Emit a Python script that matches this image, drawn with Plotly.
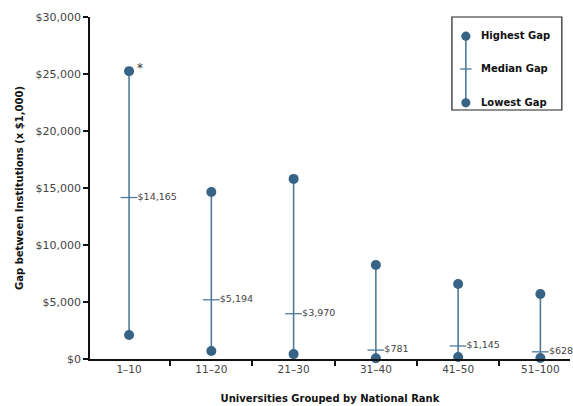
import plotly.graph_objects as go

categories = ["1–10", "11–20", "21–30", "31–40", "41–50", "51–100"]
highest_gap = [25250, 14650, 15800, 8250, 6580, 5700]
median_gap = [14165, 5194, 3970, 781, 1145, 628]
lowest_gap = [2100, 700, 430, 60, 180, 90]
median_labels = ["$14,165", "$5,194", "$3,970", "$781", "$1,145", "$628"]
y_ticks = [0, 5000, 10000, 15000, 20000, 25000, 30000]
y_tick_text = ["$0", "$5,000", "$10,000", "$15,000", "$20,000", "$25,000", "$30,000"]

DOT = "#366386"
LINE = "#4f7b9b"
FONT = "DejaVu Sans"

fig = go.Figure()

# vertical range lines
for c, hi, lo in zip(categories, highest_gap, lowest_gap):
    fig.add_trace(go.Scatter(x=[c, c], y=[lo, hi], mode="lines",
                             line=dict(color=LINE, width=1.6),
                             showlegend=False, hoverinfo="skip"))

fig.add_trace(go.Scatter(x=categories, y=highest_gap, mode="markers",
                         marker=dict(color=DOT, size=10), showlegend=False,
                         cliponaxis=False))
fig.add_trace(go.Scatter(x=categories, y=lowest_gap, mode="markers",
                         marker=dict(color=DOT, size=10), showlegend=False,
                         cliponaxis=False))
fig.add_trace(go.Scatter(x=categories, y=median_gap, mode="markers+text",
                         marker=dict(symbol="line-ew", size=12,
                                     line=dict(color=LINE, width=1.3)),
                         text=median_labels, textposition="middle right",
                         textfont=dict(family=FONT, size=9.5, color="#444"),
                         showlegend=False, cliponaxis=False))

# asterisk
fig.add_annotation(x=categories[0], y=highest_gap[0], text="*", showarrow=False,
                   xshift=11, yshift=3, font=dict(family=FONT, size=12, color="#333"))

# custom legend box
fig.add_shape(type="rect", xref="paper", yref="paper",
              x0=0.754, x1=0.983, y0=0.728, y1=1.0,
              line=dict(color="#222", width=1.2), fillcolor="white")
fig.add_shape(type="line", xref="paper", yref="paper",
              x0=0.783, x1=0.783, y0=0.749, y1=0.944,
              line=dict(color=LINE, width=1.6))
fig.add_shape(type="line", xref="paper", yref="paper",
              x0=0.771, x1=0.795, y0=0.848, y1=0.848,
              line=dict(color=LINE, width=1.3))
for yy in [0.944, 0.749]:
    fig.add_shape(type="circle", xref="paper", yref="paper",
                  x0=0.783 - 0.0095, x1=0.783 + 0.0095, y0=yy - 0.0135, y1=yy + 0.0135,
                  line=dict(color=DOT, width=0), fillcolor=DOT)
for txt, yy in [("Highest Gap", 0.946), ("Median Gap", 0.85), ("Lowest Gap", 0.751)]:
    fig.add_annotation(xref="paper", yref="paper", x=0.81, y=yy, text="<b>" + txt + "</b>",
                       showarrow=False, xanchor="left", yanchor="middle",
                       font=dict(family=FONT, size=10, color="#111"))

fig.update_layout(
    width=573, height=406,
    margin=dict(l=90, r=3, t=17, b=47),
    plot_bgcolor="white", paper_bgcolor="white",
    font=dict(family=FONT, color="#333"),
    xaxis=dict(type="category", range=[-0.475, 5.36], showline=True,
               linecolor="#111", linewidth=1.5, ticks="outside", tickson="boundaries",
               ticklen=5, tickwidth=1.5, tickcolor="#111", showgrid=False,
               tickfont=dict(size=10.5, color="#444"),
               title=dict(text="<b>Universities Grouped by National Rank</b>",
                          font=dict(size=10, color="#111"), standoff=21)),
    yaxis=dict(range=[0, 30000], tickvals=y_ticks, ticktext=y_tick_text,
               showline=True, linecolor="#111", linewidth=1.5, ticks="outside",
               ticklen=5, tickwidth=1.5, tickcolor="#111", showgrid=False, zeroline=False,
               tickfont=dict(size=11, color="#444"),
               title=dict(text="<b>Gap between Institutions (x $1,000)</b>",
                          font=dict(size=10, color="#111"), standoff=10)),
)

fig.write_html(
    "out.html",
    config={"displayModeBar": False},
    post_script="document.body.style.margin='0';document.body.style.overflow='hidden';",
)
